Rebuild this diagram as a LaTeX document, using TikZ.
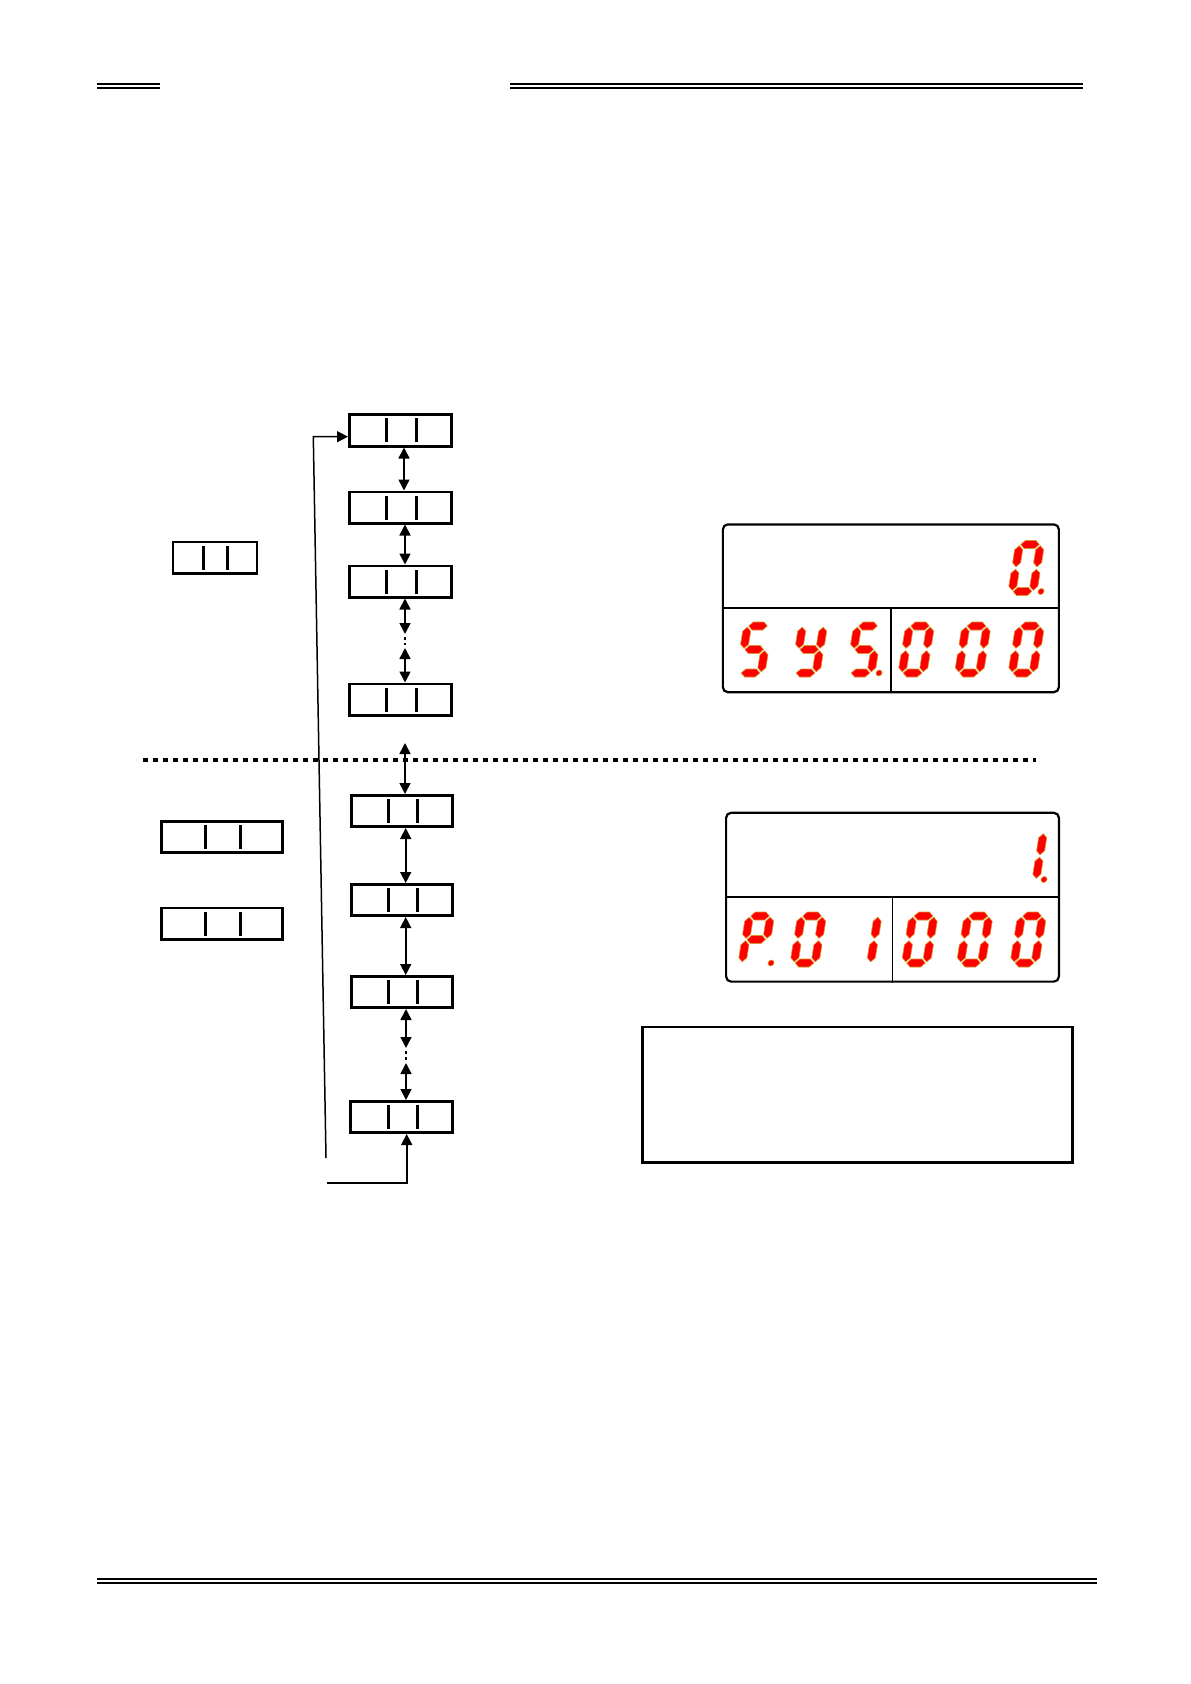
\documentclass[tikz,border=0pt]{standalone}
\usetikzlibrary{arrows.meta}
\definecolor{segred}{RGB}{255,0,0}
\definecolor{segedge}{RGB}{215,150,40}
\tikzset{
  menubox/.style={draw, line width=1.35pt, inner sep=0pt, minimum height=15.65pt},
  dblarrow/.style={line width=0.8pt, {Triangle[length=5.5pt,width=5.5pt]}-{Triangle[length=5.5pt,width=5.5pt]}},
  sarrow/.style={line width=0.8pt, -{Triangle[length=5.5pt,width=5.5pt]}},
  gapdots/.style={line width=0.8pt, dash pattern=on 1.5pt off 1.5pt},
  segfill/.style={fill=segred, draw=segedge, line width=0.3pt, line join=round},
  barline/.style={line width=1.5pt},
  lcd/.style={draw, line width=1.1pt, rounded corners=2.5pt, inner sep=0pt},
  lcddiv/.style={line width=0.9pt},
  rule/.style={line width=1.1pt},
  rulethin/.style={line width=0.6pt}
}
\newcommand\hsegm[3]{\path[segfill] (#1,#3) -- (#1+4,#3+4) -- (#2-4,#3+4) -- (#2,#3) -- (#2-4,#3-4) -- (#1+4,#3-4) -- cycle;}
\newcommand\vsegm[3]{\path[segfill] (#1,#2) -- (#1+4,#2+4) -- (#1+4,#3-4) -- (#1,#3) -- (#1-4,#3-4) -- (#1-4,#2+4) -- cycle;}
\newcommand\dsega{\hsegm{1.2}{19.8}{47}}
\newcommand\dsegg{\hsegm{1.2}{19.8}{23.5}}
\newcommand\dsegd{\hsegm{1.2}{19.8}{0}}
\newcommand\dsegf{\vsegm{0}{24.7}{45.8}}
\newcommand\dsegb{\vsegm{21}{24.7}{45.8}}
\newcommand\dsege{\vsegm{0}{1.2}{22.3}}
\newcommand\dsegc{\vsegm{21}{1.2}{22.3}}
\newcommand\dsegp{\path[segfill] (29,0) circle[radius=3];}
\newcommand\sevseg[3]{%
  \begin{scope}[shift={(#1,#2)}, x=0.5pt, y=0.5pt, xslant=0.16]
    \foreach \s in {#3}{\csname dseg\s\endcsname}
  \end{scope}}
\newcommand\twobars[3]{%
  \draw[barline] ([shift={(#2,-12)}]#1.center) -- ([shift={(#2,12)}]#1.center);
  \draw[barline] ([shift={(#3,-12)}]#1.center) -- ([shift={(#3,12)}]#1.center);}
\begin{document}
\begin{tikzpicture}[x=0.5pt,y=-0.5pt]
\useasboundingbox (0,0) rectangle (1190,1684);
\fill[white] (0,0) rectangle (1190,1684);

% header and footer rules
\draw[rule] (97,84) -- (160,84);
\draw[rulethin] (97,88) -- (160,88);
\draw[rule] (510,84) -- (1083,84);
\draw[rulethin] (510,88) -- (1083,88);
\draw[rule] (97,1579) -- (1097,1579);
\draw[rulethin] (97,1583) -- (1097,1583);

% menu boxes, upper section
\node[menubox, minimum width=51.15pt] (b1) at (400.5,430.5) {};
\node[menubox, minimum width=51.15pt] (b2) at (400.5,507.5) {};
\node[menubox, minimum width=51.15pt] (b3) at (400.5,581.5) {};
\node[menubox, minimum width=51.15pt] (b4) at (400.5,699.5) {};
\node[menubox, minimum width=42pt] (la) at (215,557.5) {};
\twobars{b1}{-13.8}{16.2}
\twobars{b2}{-13.8}{16.2}
\twobars{b3}{-13.8}{16.2}
\twobars{b4}{-13.8}{16.2}
\twobars{la}{-11.7}{12.3}

% menu boxes, lower section
\node[menubox, minimum width=50.65pt] (b5) at (402,811) {};
\node[menubox, minimum width=50.65pt] (b6) at (402,900) {};
\node[menubox, minimum width=50.65pt] (b7) at (402,992) {};
\node[menubox, minimum width=51.15pt] (b8) at (401.5,1117) {};
\node[menubox, minimum width=60.65pt] (lb) at (222,837) {};
\node[menubox, minimum width=60.65pt] (lc) at (222,923.5) {};
\twobars{b5}{-13.7}{15.5}
\twobars{b6}{-13.7}{15.5}
\twobars{b7}{-13.7}{15.5}
\twobars{b8}{-13.2}{16}
\twobars{lb}{-17}{18.7}
\twobars{lc}{-17}{18.7}

% connectors upper section
\draw[dblarrow] ([xshift=1.75pt]b1.south) -- ([xshift=1.75pt]b2.north);
\draw[dblarrow] ([xshift=2.25pt]b2.south) -- ([xshift=2.25pt]b3.north);
\coordinate (u1) at (405,634);
\coordinate (u2) at (405,637);
\coordinate (u3) at (405,645);
\coordinate (u4) at (405,648);
\draw[dblarrow] ([xshift=2.25pt]b3.south) -- (u1);
\draw[gapdots] (u2) -- (u3);
\draw[dblarrow] (u4) -- ([xshift=2.25pt]b4.north);

% separator
\draw[line width=2.2pt, dash pattern=on 2.3pt off 2.7pt] (143,760) -- (1036,760);

% connectors lower section
\coordinate (top5) at (405,743);
\draw[dblarrow] (top5) -- ([xshift=1.5pt]b5.north);
\draw[dblarrow] ([xshift=1.85pt]b5.south) -- ([xshift=1.85pt]b6.north);
\draw[dblarrow] ([xshift=1.85pt]b6.south) -- ([xshift=1.85pt]b7.north);
\coordinate (v1) at (406,1048);
\coordinate (v2) at (406,1051);
\coordinate (v3) at (406,1060);
\coordinate (v4) at (406,1063);
\draw[dblarrow] ([xshift=2pt]b7.south) -- (v1);
\draw[gapdots] (v2) -- (v3);
\draw[dblarrow] (v4) -- ([xshift=2.25pt]b8.north);

% return loop
\coordinate (l1) at (326,1158);
\coordinate (l2) at (313.3,436.7);
\coordinate (l3) at (327.3,1182.7);
\draw[sarrow, line width=0.75pt] (l1) -- (l2) -- (b1.west |- l2);
\draw[sarrow] (l3) -| ([xshift=2.6pt]b8.south);

% LCD display 1
\node[lcd, minimum width=168pt, minimum height=83.9pt] (d1) at (890.85,608.3) {};
\draw[lcddiv] (d1.west) -- (d1.east);
\draw[lcddiv] (d1.center) -- (d1.south);
\sevseg{1012}{591.5}{a,b,c,d,e,f,p}
\sevseg{740}{673}{a,f,g,c,d}
\sevseg{795}{673}{f,b,g,c,d}
\sevseg{850}{673}{a,f,g,c,d,p}
\sevseg{902}{673}{a,b,c,d,e,f}
\sevseg{958.5}{673}{a,b,c,d,e,f}
\sevseg{1012}{673}{a,b,c,d,e,f}

% LCD display 2
\node[lcd, minimum width=166.4pt, minimum height=84.4pt] (d2) at (892.5,897.2) {};
\draw[lcddiv] (d2.west) -- (d2.east);
\draw[lcddiv] (d2.center) -- (d2.south);
\sevseg{1015}{879.5}{b,c,p}
\sevseg{742}{963}{a,b,f,g,e,p}
\sevseg{794}{963}{a,b,c,d,e,f}
\sevseg{849.5}{963}{b,c}
\sevseg{905.5}{963}{a,b,c,d,e,f}
\sevseg{960.5}{963}{a,b,c,d,e,f}
\sevseg{1014}{963}{a,b,c,d,e,f}

% note frame
\node[draw, line width=1.1pt, inner sep=0pt, minimum width=215pt, minimum height=67.9pt] (note) at (857.5,1094.65) {};
\end{tikzpicture}
\end{document}
